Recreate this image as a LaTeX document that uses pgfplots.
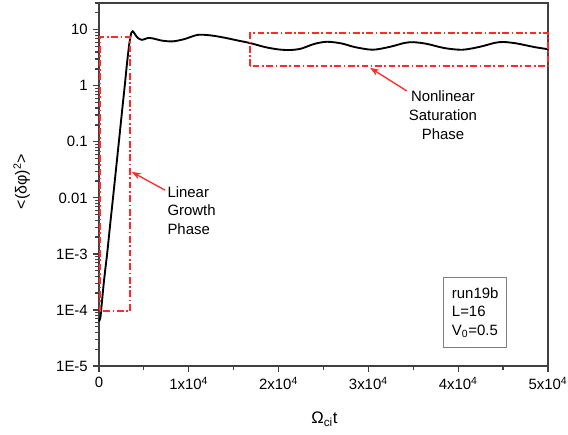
\documentclass[border=0pt]{standalone}
\usepackage{fontspec}
\setmainfont{Liberation Sans}
\usepackage{pgfplots}
\pgfplotsset{compat=1.18}
\usetikzlibrary{arrows.meta}
\definecolor{axisgray}{HTML}{404040}
\definecolor{annred}{HTML}{FF2A2A}
\begin{document}
\fontsize{11.2}{13.7}\selectfont
\begin{tikzpicture}[x=0.75pt,y=0.75pt]
\useasboundingbox (-99,-69) rectangle (469,366);
\begin{axis}[at={(0,0)},anchor=south west, scale only axis,
  width=336.75pt, height=272.25pt,
  ymode=log, xmin=0, xmax=50000, ymin=1e-5, ymax=30,
  clip=false,
  axis line style={draw=axisgray, line width=1.1pt},
  tick style={draw=axisgray, line width=0.9pt},
  major tick length=4.5pt, minor tick length=3pt,
  tick align=outside, xtick pos=bottom, ytick pos=left,
  ytick={1e-5,1e-4,1e-3,0.01,0.1,1,10},
  yticklabels={1E-5,1E-4,1E-3,0.01,0.1,1,10},
  minor ytick={2e-5,3e-5,4e-5,5e-5,6e-5,7e-5,8e-5,9e-5,
    2e-4,3e-4,4e-4,5e-4,6e-4,7e-4,8e-4,9e-4,
    2e-3,3e-3,4e-3,5e-3,6e-3,7e-3,8e-3,9e-3,
    0.02,0.03,0.04,0.05,0.06,0.07,0.08,0.09,
    0.2,0.3,0.4,0.5,0.6,0.7,0.8,0.9,
    2,3,4,5,6,7,8,9,20,30},
  xtick={0,10000,20000,30000,40000,50000},
  xticklabels={0,1x10\textsuperscript{4},2x10\textsuperscript{4},3x10\textsuperscript{4},4x10\textsuperscript{4},5x10\textsuperscript{4}},
  minor xtick={5000,15000,25000,35000,45000},
  scaled x ticks=false,
  ticklabel style={font=\fontsize{11.2}{13}\selectfont},
  xlabel={Ω\textsubscript{ci}t},
  ylabel={<(δφ)\textsuperscript{2}>},
  xlabel style={at={(rel axis cs:0.502,-0.158)},anchor=base,font=\fontsize{12.5}{14}\selectfont},
  ylabel style={at={(rel axis cs:-0.172,0.508)},anchor=center,font=\fontsize{12}{14}\selectfont},
]
\addplot[black, line width=1.4pt, smooth, tension=0.5] coordinates {
(0,6.3e-5) (150,7.2e-5) (300,1.25e-4) (500,2.7e-4) (700,5.3e-4) (905,1e-3)
(1230,3.2e-3) (1560,0.01) (1890,0.032) (2213,0.1) (2540,0.32) (2866,1)
(3150,2.8) (3400,6.0) (3600,8.8) (3750,9.4) (3950,8.6) (4300,7.2)
(4800,6.6) (5400,7.1) (6000,7.0) (7000,6.4) (8200,6.2) (9500,6.8)
(11000,8.1) (12500,7.9) (14000,7.2) (15500,6.4) (16800,5.8) (18500,4.9)
(20000,4.45) (21300,4.35) (22500,4.6) (24000,5.6) (25400,6.1) (27000,5.7)
(28500,4.9) (30500,4.4) (32500,5.0) (34000,5.8) (35000,6.0) (36500,5.6)
(38500,4.7) (40500,4.4) (42500,5.0) (44000,5.8) (45000,6.05) (46500,5.7)
(48500,4.9) (50000,4.5)
};
\draw[annred, line width=1.2pt, dash pattern=on 5pt off 2pt on 1.2pt off 2pt]
  (axis cs:100,9.5e-5) rectangle (axis cs:3450,7.4);
\draw[annred, line width=1.2pt, dash pattern=on 5pt off 2pt on 1.2pt off 2pt]
  (axis cs:16800,2.24) rectangle (axis cs:50000,8.7);
\draw[annred, line width=1pt, -{Stealth[length=7pt,width=5pt]}]
  (axis cs:7350,0.01374) -- (axis cs:3640,0.0291);
\draw[annred, line width=1pt, -{Stealth[length=7pt,width=5pt]}]
  (axis cs:34265,0.81) -- (axis cs:30178,2.10);
\node[anchor=north west, inner sep=0pt, align=left, font=\fontsize{11.2}{13.7}\selectfont]
  at (axis cs:7600,0.016) {Linear\\Growth\\Phase};
\node[anchor=north, inner sep=0pt, align=center, font=\fontsize{11.2}{14.2}\selectfont]
  at (axis cs:38307,0.813) {Nonlinear\\Saturation\\Phase};
\draw[draw=gray, line width=0.8pt] (rel axis cs:0.7668,0.0504) rectangle (rel axis cs:0.908,0.2444);
\node[anchor=north west, inner sep=0pt, align=left, font=\fontsize{11.2}{14}\selectfont]
  at (rel axis cs:0.7855,0.2176) {run19b\\L=16\\V\textsubscript{0}=0.5};
\end{axis}
\end{tikzpicture}
\end{document}
